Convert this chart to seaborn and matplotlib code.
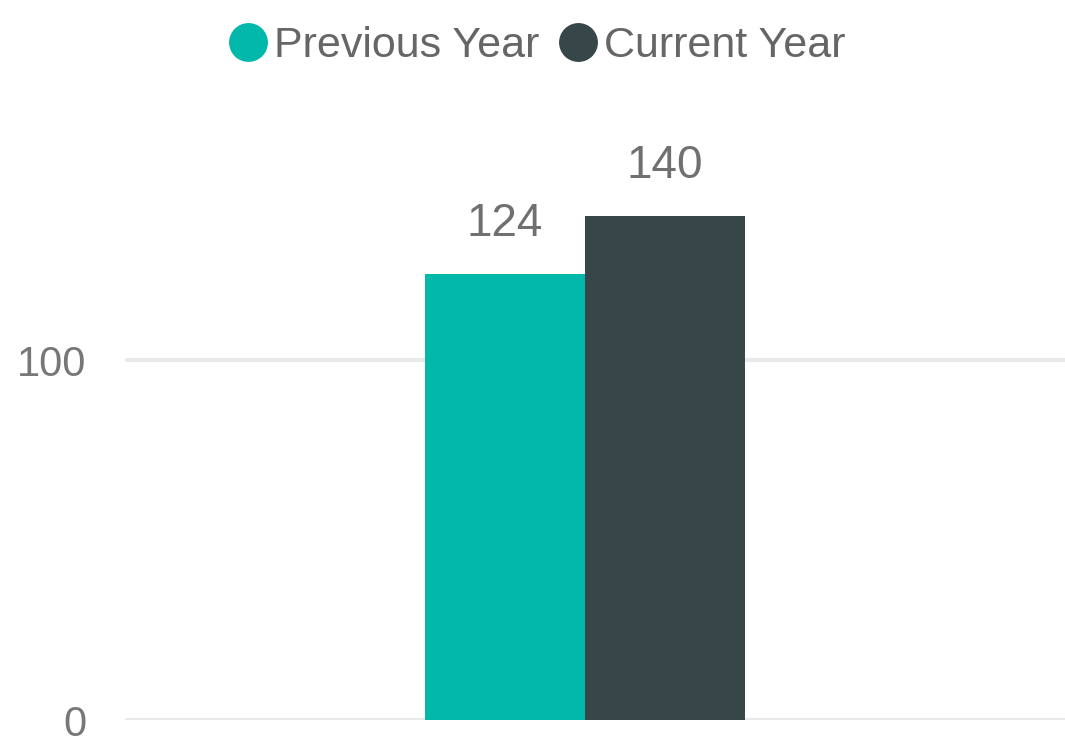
import matplotlib
matplotlib.use("Agg")
import matplotlib.pyplot as plt
from matplotlib.lines import Line2D
import seaborn as sns
import pandas as pd

# Data
category = ["Total"]
series = ["Previous Year", "Current Year"]
values = [124, 140]
colors = ["#01B8AA", "#374649"]

df = pd.DataFrame({"cat": category * 2, "series": series, "value": values})

sns.set_style("white")
plt.rcParams["font.family"] = ["Liberation Sans", "DejaVu Sans"]

fig = plt.figure(figsize=(10.65, 7.38), dpi=100)
ax = fig.add_axes([125 / 1065, 18 / 738, 940 / 1065, 648 / 738])

sns.barplot(data=df, x="cat", y="value", hue="series", palette=colors,
            width=0.8, saturation=1, ax=ax, legend=False)

for p in ax.patches:
    p.set_edgecolor("none")

ax.set_xlim(-1.15, 1.2)
ax.set_ylim(0, 180)
ax.set_yticks([0, 100])
ax.set_xticks([])
ax.set_xlabel("")
ax.set_ylabel("")
ax.grid(axis="y", color="#E9E9E9", linewidth=3)
ax.set_axisbelow(True)
for s in ax.spines.values():
    s.set_visible(False)
ax.tick_params(axis="y", length=0, pad=28, labelsize=30, labelcolor="#777777")

# value labels
for c in ax.containers:
    ax.bar_label(c, padding=20, fontsize=33, color="#707070")

# legend with circle markers
handles = [Line2D([], [], marker="o", linestyle="none", markersize=28,
                  markerfacecolor=col, markeredgecolor="none") for col in colors]
fig.legend(handles, series, loc="center", bbox_to_anchor=(536 / 1065, 1 - 46 / 738),
           ncol=2, frameon=False, fontsize=31, labelcolor="#666666",
           handletextpad=0.1, columnspacing=0.4, handlelength=1.0,
           borderpad=0.1)

fig.savefig("out.png", dpi=100)
